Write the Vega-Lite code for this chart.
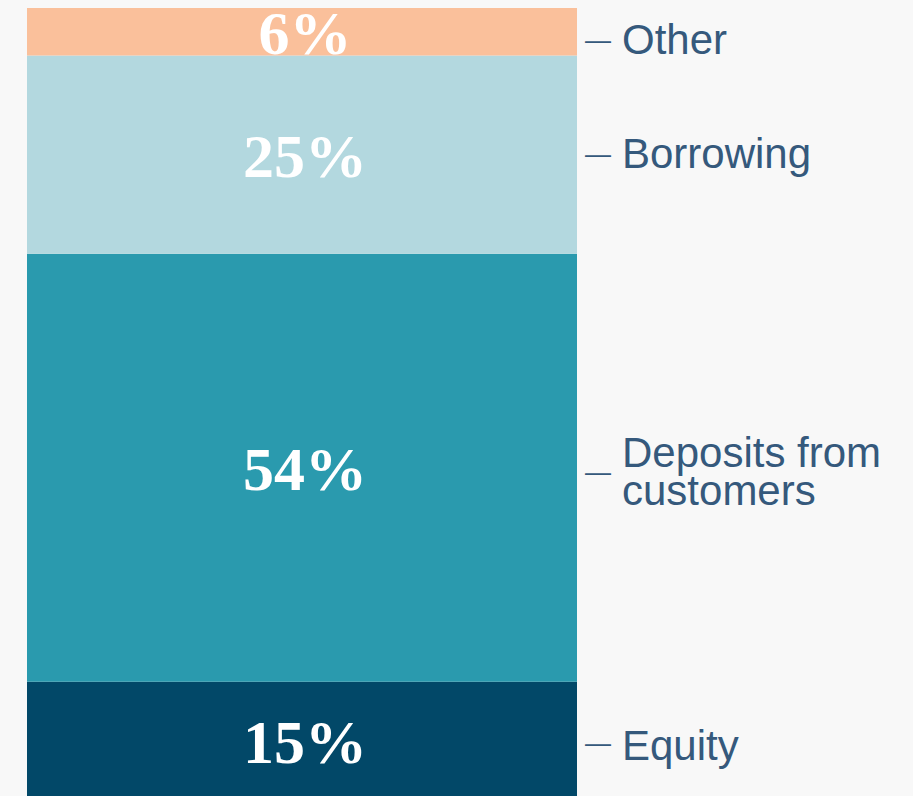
{
  "$schema": "https://vega.github.io/schema/vega-lite/v6.json",
  "width": 550,
  "height": 788,
  "autosize": {"type": "none"},
  "padding": {"left": 27, "top": 8, "right": 336, "bottom": 0},
  "background": "#F8F8F8",
  "config": {"view": {"stroke": null}},
  "data": {
    "values": [
      {"group": "Funding", "category": "Equity", "value": 15, "label": "15%", "name": ["Equity"], "rank": 1},
      {"group": "Funding", "category": "Deposits from customers", "value": 54, "label": "54%", "name": ["Deposits from", "customers"], "rank": 2},
      {"group": "Funding", "category": "Borrowing", "value": 25, "label": "25%", "name": ["Borrowing"], "rank": 3},
      {"group": "Funding", "category": "Other", "value": 6, "label": "6%", "name": ["Other"], "rank": 4}
    ]
  },
  "encoding": {
    "x": {"field": "group", "type": "nominal", "axis": null, "scale": {"paddingInner": 0, "paddingOuter": 0}},
    "order": {"field": "rank", "type": "quantitative"}
  },
  "layer": [
    {
      "mark": {"type": "bar", "clip": true},
      "encoding": {
        "y": {"field": "value", "type": "quantitative", "stack": "zero", "axis": null, "scale": {"domain": [0.6, 100]}},
        "color": {
          "field": "category", "type": "nominal", "legend": null,
          "scale": {"domain": ["Equity", "Deposits from customers", "Borrowing", "Other"], "range": ["#024868", "#2A9AAE", "#B3D8DF", "#FAC09B"]}
        }
      }
    },
    {
      "encoding": {
        "y": {"field": "value", "type": "quantitative", "stack": "zero", "bandPosition": 0.5, "axis": null, "scale": {"domain": [0.6, 100]}}
      },
      "layer": [
        {
          "mark": {"type": "text", "font": "Liberation Serif", "fontWeight": "bold", "fontSize": 62, "color": "#FFFFFF", "baseline": "middle", "align": "center", "dx": 3, "dy": 3},
          "encoding": {"text": {"field": "label"}}
        },
        {
          "mark": {"type": "text", "font": "Liberation Sans", "fontSize": 26, "color": "#35597C", "baseline": "middle", "align": "left", "dx": 283},
          "encoding": {"text": {"condition": {"test": "datum.category === 'Borrowing'", "value": "—"}, "value": ""}}
        },
        {
          "mark": {"type": "text", "font": "Liberation Sans", "fontSize": 26, "color": "#35597C", "baseline": "middle", "align": "left", "dx": 283, "dy": 9},
          "encoding": {"text": {"condition": {"test": "datum.category === 'Other'", "value": "—"}, "value": ""}}
        },
        {
          "mark": {"type": "text", "font": "Liberation Sans", "fontSize": 26, "color": "#35597C", "baseline": "middle", "align": "left", "dx": 283, "dy": 5},
          "encoding": {"text": {"condition": {"test": "datum.category === 'Deposits from customers'", "value": "—"}, "value": ""}}
        },
        {
          "mark": {"type": "text", "font": "Liberation Sans", "fontSize": 26, "color": "#35597C", "baseline": "middle", "align": "left", "dx": 283, "dy": 3},
          "encoding": {"text": {"condition": {"test": "datum.category === 'Equity'", "value": "—"}, "value": ""}}
        },
        {
          "mark": {"type": "text", "font": "Liberation Sans", "fontSize": 42, "color": "#35597C", "baseline": "middle", "align": "left", "dx": 320},
          "encoding": {"text": {"condition": {"test": "datum.category === 'Borrowing'", "field": "name"}, "value": ""}}
        },
        {
          "mark": {"type": "text", "font": "Liberation Sans", "fontSize": 42, "color": "#35597C", "baseline": "middle", "align": "left", "dx": 320, "dy": 9},
          "encoding": {"text": {"condition": {"test": "datum.category === 'Other'", "field": "name"}, "value": ""}}
        },
        {
          "mark": {"type": "text", "font": "Liberation Sans", "fontSize": 42, "lineHeight": 38, "color": "#35597C", "baseline": "middle", "align": "left", "dx": 320, "dy": -14},
          "encoding": {"text": {"condition": {"test": "datum.category === 'Deposits from customers'", "field": "name"}, "value": ""}}
        },
        {
          "mark": {"type": "text", "font": "Liberation Sans", "fontSize": 42, "color": "#35597C", "baseline": "middle", "align": "left", "dx": 320, "dy": 6},
          "encoding": {"text": {"condition": {"test": "datum.category === 'Equity'", "field": "name"}, "value": ""}}
        }
      ]
    }
  ]
}
